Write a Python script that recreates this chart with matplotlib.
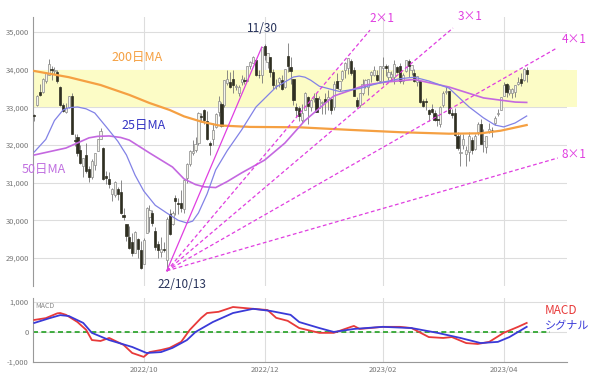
import numpy as np
import pandas as pd
import matplotlib
matplotlib.use("Agg")
import matplotlib.pyplot as plt
import matplotlib.transforms as mtransforms
from matplotlib.patches import Rectangle

plt.rcParams['font.family'] = ['Noto Sans CJK JP', 'DejaVu Sans']

# trading days shown (US market holidays removed)
holidays = ['2022-09-05', '2022-11-24', '2022-12-26', '2023-01-02',
            '2023-01-16', '2023-02-20', '2023-04-07']
dates = pd.bdate_range('2022-08-09', '2023-04-14', freq='C', holidays=holidays)

# daily OHLC, Aug 9 2022 -> Apr 14 2023
opens = [
    32790, 33050, 33420, 33400, 33700, 33870, 34030, 33960, 33930, 33550, 33060, 32880, 33000, 33300, 32120, 32200, 31880,
    31450, 31740, 31360, 31150, 31460, 31840, 32170, 31930, 31170, 31090, 30700, 30680, 30840, 30750, 30140, 29900, 29560, 29430, 29130, 29500, 29220,
    28850, 29660, 30100, 30190, 29720, 29380, 29160, 29240, 28950, 30160, 29900, 30580, 30450, 30470, 30310, 31130, 31500, 31790, 31880, 32050, 32760,
    32930, 32640, 32050, 32150, 32480, 32870, 33090, 33050, 33640, 33680, 33750, 33550, 33370, 33670, 33720, 33710, 34090, 34170, 34250, 33870, 33860,
    34620, 34210, 34340, 33950, 33560, 33680, 33720, 33550, 34370, 34060, 33740, 33020, 32970, 32670, 32930, 33270, 33000, 33220, 33260, 32990, 33120,
    33210, 33220, 33220, 33010, 33710, 33480, 33740, 34000, 34050, 34240, 34000, 33190, 33070, 33390, 33570, 33550, 33850, 33870, 33870, 33700,
    34040, 34110, 33810, 33810, 33800, 34080, 34110, 33710, 33960, 34220, 34000, 33920, 33680, 33690, 33170, 33180, 32920, 32950, 32850,
    32700, 32570, 33070, 33420, 33430, 32860, 32850, 32240, 31800, 32010, 31770, 31810, 32130, 31900, 32350, 32560, 32100, 31960, 32360, 32400, 32580, 32820, 32930,
    33310, 33610, 33380, 33390, 33420, 33620, 33760, 33730, 33980,
]
highs = [
    32830, 33330, 33620, 33770, 33930, 34280, 34100, 34070, 33980, 33570, 33110, 33120, 33300, 33380, 32300, 32280, 31990,
    31660, 32050, 31440, 31620, 31800, 32170, 32440, 31940, 31320, 31280, 30850, 31050, 30880, 31080, 30320, 29900, 29860, 29660, 29710, 29540, 29460,
    29530, 30360, 30420, 30270, 29810, 29440, 29550, 29420, 30100, 30300, 30250, 30660, 30580, 30810, 31110, 31520, 31870, 32140, 32200, 32880, 32840,
    32960, 32900, 32110, 32580, 32850, 33290, 33140, 33730, 33990, 33930, 33990, 33620, 33580, 33850, 33810, 34110, 34240, 34360, 34270, 33990, 34600,
    34680, 34430, 34340, 34030, 33750, 33800, 33870, 34010, 34710, 34340, 33740, 33110, 33030, 33080, 33420, 33290, 33220, 33390, 33380, 33290, 33160,
    33370, 33450, 33230, 33690, 33920, 33710, 33980, 34200, 34320, 34270, 34060, 33270, 33380, 33760, 33760, 33760, 33960, 34100, 33990, 34090,
    34340, 34160, 34130, 33970, 34250, 34110, 34170, 33900, 34250, 34270, 34130, 34010, 33840, 33690, 33230, 33250, 32960, 33080, 32930,
    32820, 33030, 33440, 33570, 33430, 32950, 32990, 32350, 32280, 32300, 31980, 32340, 32210, 32290, 32620, 32680, 32430, 32240, 32590, 32470, 32760, 32950, 33280,
    33660, 33640, 33580, 33520, 33600, 33800, 33920, 34050, 34060,
]
lows = [
    32640, 33030, 33300, 33380, 33640, 33850, 33730, 33880, 33640, 33040, 32880, 32860, 32990, 32280, 31970, 31700, 31500,
    31160, 31250, 31030, 31110, 31330, 31840, 32170, 31060, 30960, 30850, 30510, 30620, 30550, 30180, 30000, 29440, 29250, 29060, 29120, 28990, 28720,
    28850, 29660, 29700, 29860, 29200, 28990, 29030, 29160, 28660, 29610, 29880, 30140, 30180, 30210, 30200, 31000, 31450, 31730, 31820, 31990, 32620,
    32570, 32140, 31730, 32010, 32440, 32780, 32490, 33020, 33580, 33510, 33380, 33460, 33290, 33580, 33620, 33710, 34010, 34170, 33830, 33790, 33640,
    34250, 34040, 33800, 33490, 33480, 33530, 33460, 33520, 33950, 33620, 33050, 32750, 32650, 32580, 32930, 32570, 32900, 33130, 32870, 32990, 32820,
    32810, 32940, 32810, 32920, 33500, 33430, 33690, 33780, 33890, 33850, 33290, 32980, 33000, 33320, 33520, 33320, 33660, 33840, 33690, 33680,
    33580, 33830, 33720, 33690, 33620, 33900, 33640, 33630, 33930, 33800, 33860, 33660, 33560, 33120, 33000, 32920, 32640, 32840, 32640,
    32500, 32490, 33020, 33360, 32820, 32720, 32250, 31880, 31430, 31900, 31430, 31580, 31750, 31880, 32260, 32030, 31810, 31800, 32310, 32220, 32540, 32770, 32920,
    33300, 33280, 33330, 33240, 33280, 33580, 33560, 33710, 33680,
]
closes = [
    32774, 33309, 33336, 33761, 33912, 34152, 33980, 33999, 33706, 33063, 32909, 32969, 33291, 32283, 32098, 31790, 31510,
    31656, 31318, 31145, 31581, 31775, 32152, 32381, 31105, 31135, 30962, 30822, 31019, 30706, 30184, 30077, 29590, 29261, 29135, 29684, 29226, 28726,
    29491, 30317, 30274, 29927, 29297, 29203, 29239, 29211, 30039, 29634, 30186, 30524, 30424, 30334, 31083, 31500, 31837, 31839, 32034, 32861, 32733,
    32653, 32148, 32001, 32403, 32827, 33161, 32514, 33716, 33748, 33537, 33593, 33554, 33546, 33746, 33700, 34098, 34194, 34347, 33850, 33853, 34590,
    34395, 34430, 33948, 33597, 33598, 33781, 33477, 34006, 34108, 33966, 33203, 32920, 32757, 32850, 33377, 33027, 33204, 33241, 32876, 33221, 33147,
    33136, 33270, 32930, 33631, 33518, 33704, 33974, 34190, 34303, 33911, 33297, 33045, 33376, 33630, 33734, 33744, 33949, 33978, 33717, 34086,
    34093, 34054, 33926, 33891, 34156, 33949, 33699, 33869, 34246, 34089, 34128, 33697, 33827, 33130, 33045, 33154, 32817, 32889, 32657,
    32662, 33004, 33391, 33432, 32856, 32798, 32255, 31910, 31819, 32155, 31875, 32247, 31862, 32245, 32561, 32031, 32106, 32238, 32433, 32394, 32718, 32860, 33274,
    33601, 33403, 33483, 33485, 33587, 33685, 33647, 34030, 33887,
]

# moving averages (trading-day index, value)
ma200_t = [0, 12, 23, 33, 40, 47, 52, 58, 64, 75, 92, 110, 127, 144, 155, 162, 171]
ma200_v = [33965, 33800, 33593, 33330, 33115, 32930, 32760, 32620, 32520, 32480, 32470, 32400, 32340, 32300, 32310, 32380, 32530]
ma25_t = [0, 4, 7, 10, 12, 15, 18, 21, 25, 29, 32, 35, 38, 42, 46, 50, 53, 55, 57, 60, 63, 67, 72, 77, 84, 90, 92, 94, 96,
          99, 106, 113, 120, 127, 132, 137, 144, 151, 156, 160, 163, 167, 171]
ma25_v = [31815, 32150, 32650, 32930, 32990, 33010, 32960, 32850, 32480, 32100, 31735, 31200, 30780, 30400, 30195, 30000,
          29930, 29980, 30195, 30700, 31340, 31850, 32400, 33010, 33540, 33805, 33830, 33800, 33720, 33560, 33420, 33500,
          33650, 33760, 33800, 33700, 33510, 33010, 32720, 32530, 32480, 32585, 32770]
ma50_t = [0, 11, 19, 22, 26, 30, 33, 40, 48, 52, 56, 59, 63, 67, 72, 80, 87, 94, 104, 115, 122, 132, 144, 156, 167, 171]
ma50_v = [31735, 31920, 32190, 32230, 32240, 32200, 32130, 31790, 31415, 31100, 30950, 30890, 30870, 31030, 31260, 31600,
          32050, 32650, 33300, 33590, 33670, 33740, 33540, 33250, 33140, 33130]

# MACD panel
macd_t = [0, 4, 8, 9, 11, 15, 18, 20, 23, 26, 31, 34, 38, 40, 44, 47, 51, 54, 58, 60, 64, 69, 76, 81, 84, 88, 92,
          99, 104, 110, 111, 113, 121, 127, 131, 137, 142, 145, 150, 154, 158, 163, 168, 171]
macd_v = [400, 460, 620, 630, 570, 330, 70, -270, -300, -200, -430, -700, -830, -670, -600, -530, -330, 70, 470, 630,
          670, 830, 770, 730, 470, 370, 130, -30, -30, 170, 200, 100, 170, 170, 130, -170, -200, -170, -370, -400, -330,
          -30, 170, 300]
signal_t = [0, 5, 9, 12, 17, 20, 26, 34, 39, 44, 48, 53, 56, 62, 69, 76, 82, 89, 92, 99, 104, 111, 121, 131, 140,
            148, 155, 161, 165, 171]
signal_v = [300, 450, 560, 530, 300, -30, -270, -500, -700, -670, -530, -270, 0, 330, 630, 770, 700, 570, 330, 130,
            0, 100, 170, 130, -30, -200, -370, -330, -170, 170]

# Gann fan: origin (Oct 13 low) and where each line ends
fan_origin = (46, 28660)
fan_names = ['', '2×1', '3×1', '4×1', '8×1']
fan_end_t = [79, 116.6, 145.4, 181.5, 181.8]
fan_end_v = [34600, 35050, 35105, 34575, 31655]

month_labels = ['2022/10', '2022/12', '2023/02', '2023/04']

t = np.arange(len(dates))
o = np.array(opens)
h = np.array(highs)
l = np.array(lows)
c = np.array(closes)
assert len(o) == len(h) == len(l) == len(c) == len(t)

# first trading day of each labelled month
month_idx = []
for lab in month_labels:
    y, m = lab.split('/')
    sel = np.where((dates.year == int(y)) & (dates.month == int(m)))[0]
    month_idx.append(sel[0])

fig = plt.figure(figsize=(6, 3.78), dpi=100)
ax = fig.add_axes([33/600, 1 - 286/378, 534/600, 269/378])
ax2 = fig.add_axes([33/600, 1 - 362/378, 534/600, 64/378], sharex=ax)

grid_col = '#dddddd'
tick_col = '#777777'

# ---- price panel
ax.set_xlim(-0.45, 185)
ax.set_ylim(28257, 35398)
ax.set_yticks(range(29000, 35001, 1000))
ax.set_yticklabels([f'{v:,}' for v in range(29000, 35001, 1000)], fontsize=5.5, color=tick_col)
ax.set_xticks(month_idx)
ax.tick_params(length=0, labelbottom=False, pad=3)
ax.grid(True, color=grid_col, lw=0.8, zorder=0)
ax.set_axisbelow(True)
for s in ['top', 'right', 'bottom']:
    ax.spines[s].set_visible(False)
ax.spines['left'].set_color('#999999')

trans = mtransforms.blended_transform_factory(ax.transAxes, ax.transData)
ax.add_patch(Rectangle((0, 33000), 1.019, 1000, transform=trans, clip_on=False,
                       facecolor='#fcfcc6', edgecolor='none', zorder=1))

up = c >= o
dn = ~up
ax.vlines(t, l, h, color='#777777', lw=0.6, zorder=2)
ax.bar(t[up], (c - o)[up], bottom=o[up], width=0.75, color='#f4f4ec',
       edgecolor='#8a8a8a', lw=0.5, zorder=3)
ax.bar(t[dn], (o - c)[dn], bottom=c[dn], width=0.75, color='#2f2f22',
       edgecolor='#2f2f22', lw=0.5, zorder=3)

ax.plot(ma200_t, ma200_v, color='#f5a042', lw=1.6, zorder=4)
ax.plot(ma50_t, ma50_v, color='#c468e0', lw=1.2, zorder=4)
ax.plot(ma25_t, ma25_v, color='#8282e6', lw=0.9, zorder=4)

fan_col = '#e03ee0'
for i, (et, ev) in enumerate(zip(fan_end_t, fan_end_v)):
    ls = '-' if i == 0 else (0, (3, 2))
    ax.plot([fan_origin[0], et], [fan_origin[1], ev], color=fan_col, lw=0.9, ls=ls, zorder=5)

ax.text(35.7, 34310, '200日MA', color='#f5a042', fontsize=9, ha='center', va='center')
ax.text(38.1, 32505, '25日MA', color='#3434c4', fontsize=9, ha='center', va='center')
ax.text(3.4, 31337, '50日MA', color='#c070e0', fontsize=9, ha='center', va='center')
ax.text(79.4, 35080, '11/30', color='#27325a', fontsize=8.5, ha='center', va='center')
ax.text(51.3, 28290, '22/10/13', color='#27325a', fontsize=8.5, ha='center', va='center')
ax.text(120.7, 35345, fan_names[1], color=fan_col, fontsize=8.5, ha='center', va='center')
ax.text(151.3, 35398, fan_names[2], color=fan_col, fontsize=8.5, ha='center', va='center')
ax.text(187.4, 34788, fan_names[3], color=fan_col, fontsize=8.5, ha='center', va='center')
ax.text(187.4, 31735, fan_names[4], color=fan_col, fontsize=8.5, ha='center', va='center')

# ---- MACD panel
ax2.set_ylim(-1000, 1130)
ax2.set_yticks([-1000, 0, 1000])
ax2.set_yticklabels(['-1,000', '0', '1,000'], fontsize=5.5, color=tick_col)
ax2.set_xticks(month_idx)
ax2.set_xticklabels(month_labels, fontsize=5.5, color=tick_col)
ax2.tick_params(length=0, pad=3)
ax2.grid(True, color=grid_col, lw=0.8, zorder=0)
ax2.set_axisbelow(True)
for s in ['top', 'right']:
    ax2.spines[s].set_visible(False)
ax2.spines['left'].set_color('#999999')
ax2.spines['bottom'].set_color('#999999')

ax2.plot([-0.45, 179], [0, 0], color='#22a022', lw=1.2, ls=(0, (3, 2)), zorder=2)
ax2.plot(macd_t, macd_v, color='#e83a3a', lw=1.3, zorder=3)
ax2.plot(signal_t, signal_v, color='#3a3ad8', lw=1.3, zorder=4)
ax2.text(0.3, 870, 'MACD', color='#888888', fontsize=5, ha='left', va='center')
ax2.text(177.3, 700, 'MACD', color='#e83a3a', fontsize=8.5, ha='left', va='center')
ax2.text(177.3, 200, 'シグナル', color='#3a3ad8', fontsize=8, ha='left', va='center')

fig.savefig('out.png', dpi=100)
